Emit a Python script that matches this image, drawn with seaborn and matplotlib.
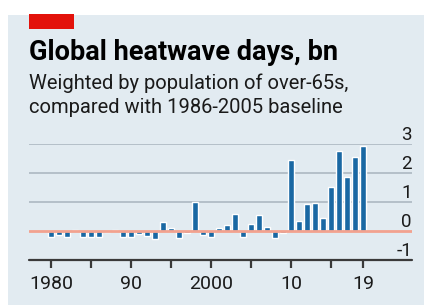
import numpy as np
import pandas as pd
import matplotlib.pyplot as plt
from matplotlib.patches import Rectangle
import seaborn as sns

# heatwave days (bn) vs 1986-2005 baseline
years = list(range(1980, 2020))
values = [-0.2, -0.15, -0.2, 0.03, -0.2, -0.2, -0.2, -0.05, 0.03, -0.2,
          -0.2, -0.12, -0.18, -0.28, 0.3, 0.1, -0.25, -0.08, 1.0, -0.15,
          -0.22, 0.1, 0.2, 0.57, -0.2, 0.25, 0.55, 0.15, -0.25, -0.08,
          2.45, 0.35, 0.93, 0.98, 0.44, 1.52, 2.76, 1.87, 2.56, 2.92]

x_ticks = [1980, 1985, 1990, 1995, 2000, 2005, 2010, 2015, 2019]
x_labels = ["1980", "", "90", "", "2000", "", "10", "", "19"]
y_ticks = [-1, 0, 1, 2, 3]
y_labels = ["-1", "0", "1", "2", "3"]

title = "Global heatwave days, bn"
subtitle_lines = ["Weighted by population of over-65s,",
                  "compared with 1986-2005 baseline"]

BG = "#e2ebf1"
BLUE = "#1a68a3"
GRID = "#a8b4bd"
ZERO = "#f2a28f"
INK = "#1a1a1a"

sns.set_theme(style="white")
plt.rcParams["font.family"] = ["Roboto", "DejaVu Sans"]

df = pd.DataFrame({"year": years, "value": values})

fig = plt.figure(figsize=(4.24, 3.07), dpi=100)
fig.patch.set_facecolor("white")
W, H = 424, 307

# panel background and red tag
fig.patches.append(Rectangle((8 / W, 1 - 305 / H), 416 / W, 290 / H,
                             transform=fig.transFigure, facecolor=BG,
                             edgecolor="none", zorder=-10))
fig.patches.append(Rectangle((29 / W, 1 - 29 / H), 45 / W, 15 / H,
                             transform=fig.transFigure, facecolor="#e3120b",
                             edgecolor="none", zorder=-5))

fig.text(29 / W, 1 - 60 / H, title, fontsize=19.5, fontweight="bold",
         color="black", va="baseline", ha="left")
for i, line in enumerate(subtitle_lines):
    fig.text(29 / W, 1 - (89 + 24 * i) / H, line, fontsize=14.5, color=INK,
             va="baseline", ha="left")

ax = fig.add_axes([29 / W, 1 - 260 / H, 383 / W, 116 / H])
ax.set_facecolor("none")
ax.set_zorder(5)

sns.barplot(data=df, x="year", y="value", native_scale=True, width=0.75,
            color=BLUE, saturation=1, ax=ax, zorder=3)

ax.set_xlim(1977.25, 2025.1)
ax.set_ylim(-1, 3)

for y in y_ticks[2:]:
    ax.axhline(y, color=GRID, lw=1.1, zorder=1)
ax.axhline(0, color=ZERO, lw=2, zorder=4)
ax.axhline(-1, color="#3a3a3a", lw=1.6, zorder=5, clip_on=False)

for y, lab in zip(y_ticks, y_labels):
    ax.text(1, y, lab, transform=ax.get_yaxis_transform(), ha="right",
            va="bottom", fontsize=13.5, color=INK)

ax.set_yticks([])
ax.set_xticks(x_ticks)
ax.set_xticklabels(x_labels, fontsize=14, color=INK)
ax.tick_params(axis="x", direction="out", length=6, width=1.6,
               color="#3a3a3a", pad=5, bottom=True)
ax.set_xlabel("")
ax.set_ylabel("")
sns.despine(ax=ax, left=True, bottom=True)

fig.savefig("out.png", dpi=100)
